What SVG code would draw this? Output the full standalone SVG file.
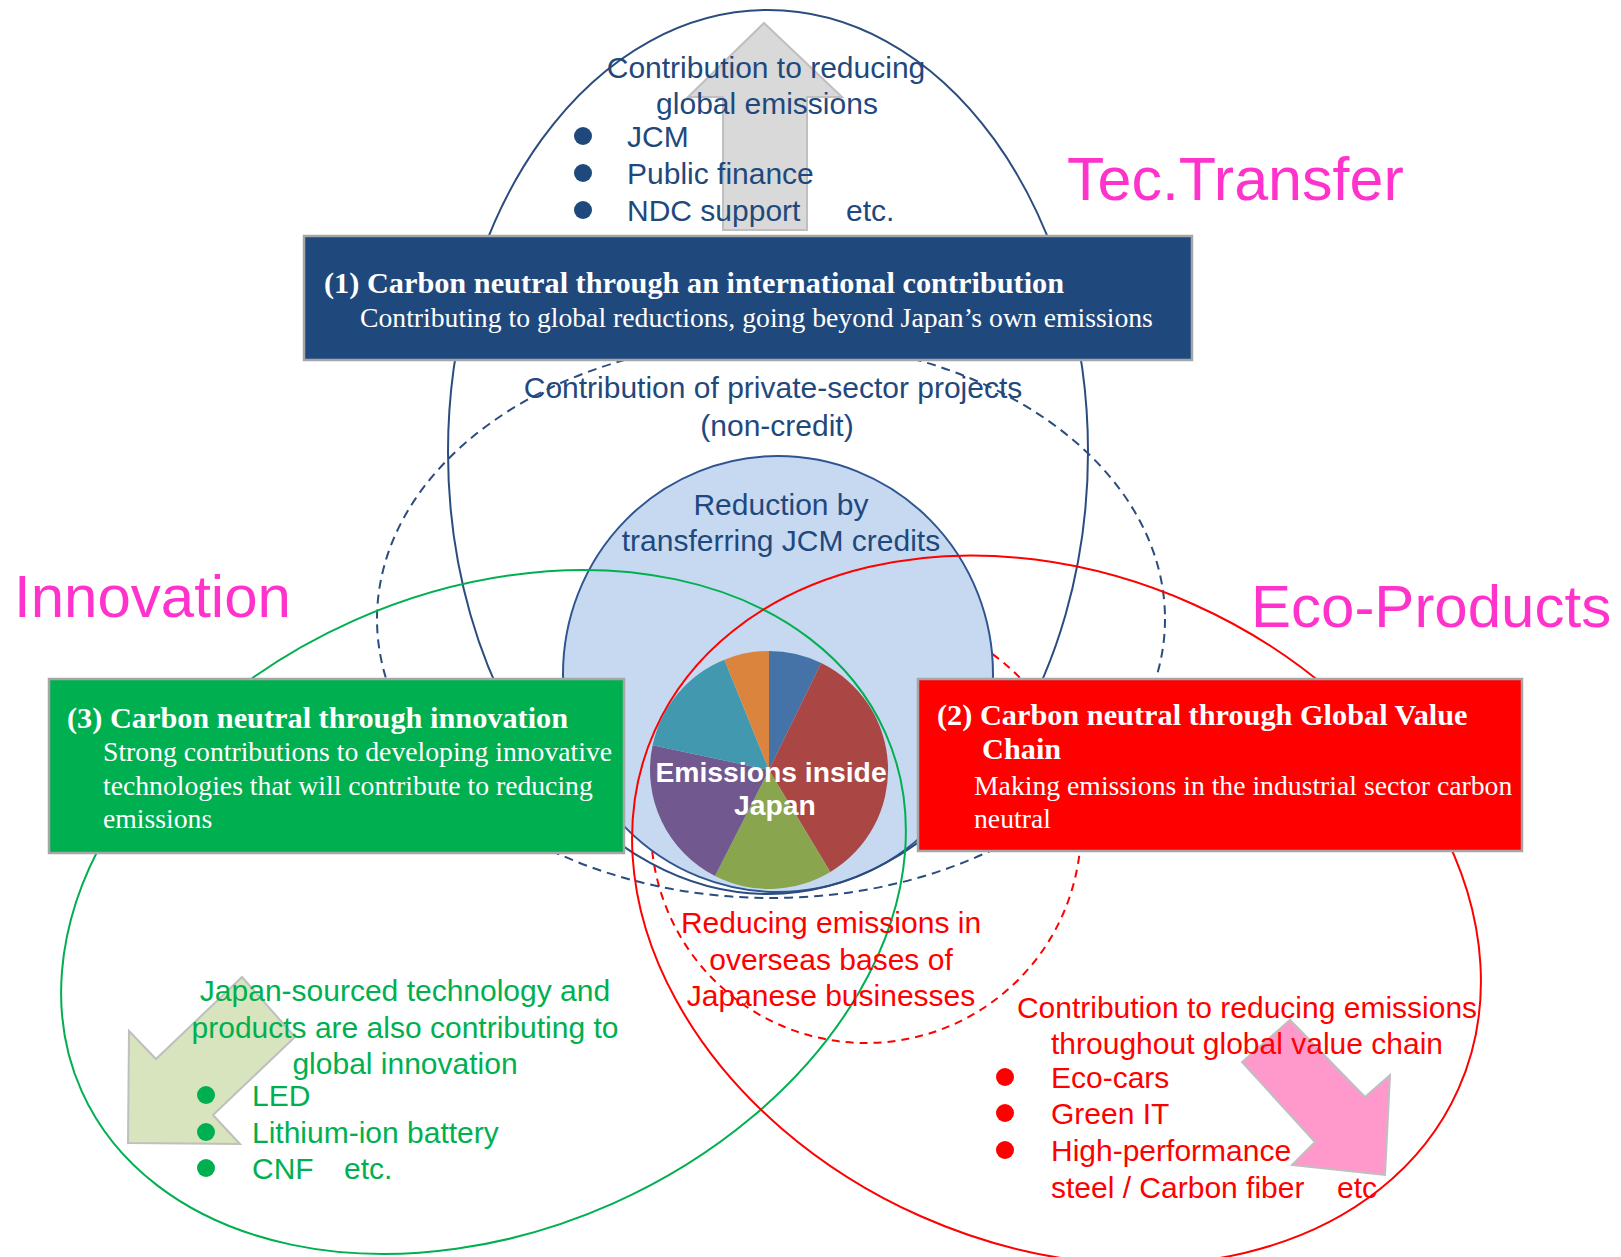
<svg xmlns="http://www.w3.org/2000/svg" width="1621" height="1257" viewBox="0 0 1621 1257">
  <style>
    .sans { font-family: "Liberation Sans", Arial, sans-serif; }
    .serif { font-family: "Liberation Serif", "Times New Roman", serif; }
    .navy { fill: #1F497D; }
    .grn { fill: #00B050; }
    .rd { fill: #FF0000; }
    .body { font-size: 30px; }
    .tag { font-size: 60px; fill: #FF33CC; }
    .boxhead { font-size: 30.3px; font-weight: bold; fill: #FFFFFF; }
    .boxtext { font-size: 27.7px; fill: #FFFFFF; }
    .ring { fill: none; stroke-width: 2; }
    .box { stroke: #A6A6A6; stroke-width: 2.5; }
    .arrow { stroke: #BFBFBF; stroke-width: 2; }
  </style>

  <rect width="1621" height="1257" fill="#FFFFFF"/>

  <!-- regions drawn underneath the JCM credit disc -->
  <g id="overseas-bases-region">
    <circle cx="866" cy="828" r="215" class="ring" stroke="#FF0000" stroke-dasharray="8 6"/>
  </g>
  <g id="private-sector-region">
    <ellipse cx="771" cy="619" rx="394" ry="279" class="ring" stroke="#2B4C7E" stroke-dasharray="9 6"/>
  </g>
  <g id="jcm-credit-disc">
    <ellipse cx="778" cy="674" rx="215" ry="218" fill="#C6D9F1" stroke="#2F5590" stroke-width="2"/>
  </g>

  <!-- main regions -->
  <g id="tec-transfer-region">
    <ellipse cx="768" cy="452" rx="320" ry="442" class="ring" stroke="#2B4C7E"/>
  </g>
  <g id="innovation-region">
    <ellipse cx="483.5" cy="912" rx="440" ry="319" class="ring" stroke="#00B050" transform="rotate(-24 483.5 912)"/>
  </g>
  <g id="eco-products-region">
    <ellipse cx="1056.5" cy="910" rx="440" ry="335" class="ring" stroke="#FF0000" transform="rotate(24 1056.5 910)"/>
  </g>

  <!-- block arrows -->
  <g id="connectors">
    <polygon class="arrow" fill="#D9D9D9" points="764,23 842,97 807,97 807,230 723,230 723,97 688,97"/>
    <polygon class="arrow" fill="#D7E4BD" points="128,1143 129,1031 156,1059 242,977 295,1037 213,1115 240,1144"/>
    <polygon class="arrow" fill="#FF99CC" points="1385,1175 1390,1075 1365,1097 1290,1020 1242,1062 1315,1142 1292,1165"/>
  </g>

  <!-- domestic emissions pie -->
  <g id="emissions-pie">
    <path d="M769,770 L769,651 A119,119 0 0 1 821.2,663 Z" fill="#4572A7"/>
    <path d="M769,770 L821.2,663 A119,119 0 0 1 830.3,872 Z" fill="#AA4643"/>
    <path d="M769,770 L830.3,872 A119,119 0 0 1 715,876 Z" fill="#89A54E"/>
    <path d="M769,770 L715,876 A119,119 0 0 1 652.6,745.3 Z" fill="#71588F"/>
    <path d="M769,770 L652.6,745.3 A119,119 0 0 1 724.4,659.7 Z" fill="#4198AF"/>
    <path d="M769,770 L724.4,659.7 A119,119 0 0 1 769,651 Z" fill="#DB843D"/>
    <text class="sans" font-size="28.3" font-weight="bold" fill="#FFFFFF" text-anchor="middle">
      <tspan x="775" y="782">Emissions inside</tspan>
      <tspan x="775" y="815">Japan</tspan>
    </text>
  </g>

  <!-- region captions -->
  <g id="caption-global" class="sans body navy">
    <text x="766" y="78" text-anchor="middle">Contribution to reducing</text>
    <text x="767" y="114" text-anchor="middle">global emissions</text>
    <circle cx="583" cy="136" r="9"/>
    <circle cx="583" cy="173" r="9"/>
    <circle cx="583" cy="210" r="9"/>
    <text x="627" y="147">JCM</text>
    <text x="627" y="184">Public finance</text>
    <text x="627" y="221">NDC support</text>
    <text x="846" y="221">etc.</text>
  </g>
  <g id="caption-private" class="sans body navy">
    <text x="773" y="398" text-anchor="middle">Contribution of private-sector projects</text>
    <text x="777" y="436" text-anchor="middle">(non-credit)</text>
  </g>
  <g id="caption-jcm" class="sans body navy">
    <text x="781" y="515" text-anchor="middle">Reduction by</text>
    <text x="781" y="551" text-anchor="middle">transferring JCM credits</text>
  </g>
  <g id="caption-overseas" class="sans body rd">
    <text x="831" y="933" text-anchor="middle">Reducing emissions in</text>
    <text x="831" y="970" text-anchor="middle">overseas bases of</text>
    <text x="831" y="1006" text-anchor="middle">Japanese businesses</text>
  </g>
  <g id="caption-value-chain" class="sans body rd">
    <text x="1247" y="1018" text-anchor="middle">Contribution to reducing emissions</text>
    <text x="1247" y="1054" text-anchor="middle">throughout global value chain</text>
    <circle cx="1005" cy="1077" r="9"/>
    <circle cx="1005" cy="1113" r="9"/>
    <circle cx="1005" cy="1150" r="9"/>
    <text x="1051" y="1088">Eco-cars</text>
    <text x="1051" y="1124">Green IT</text>
    <text x="1051" y="1161">High-performance</text>
    <text x="1051" y="1198">steel / Carbon fiber</text>
    <text x="1337" y="1198">etc</text>
  </g>
  <g id="caption-innovation" class="sans body grn">
    <text x="405" y="1001" text-anchor="middle">Japan-sourced technology and</text>
    <text x="405" y="1038" text-anchor="middle">products are also contributing to</text>
    <text x="405" y="1074" text-anchor="middle">global innovation</text>
    <circle cx="206" cy="1095" r="9"/>
    <circle cx="206" cy="1132" r="9"/>
    <circle cx="206" cy="1168" r="9"/>
    <text x="252" y="1106">LED</text>
    <text x="252" y="1143">Lithium-ion battery</text>
    <text x="252" y="1179">CNF</text>
    <text x="344" y="1179">etc.</text>
  </g>

  <!-- pillar boxes -->
  <g id="box-international">
    <rect x="304" y="236" width="888" height="124" fill="#1F497D" class="box"/>
    <text class="serif boxhead" x="324" y="293">(1) Carbon neutral through an international contribution</text>
    <text class="serif boxtext" x="360" y="327">Contributing to global reductions, going beyond Japan’s own emissions</text>
  </g>
  <g id="box-innovation">
    <rect x="49" y="679" width="575" height="174" fill="#00B050" class="box"/>
    <text class="serif boxhead" x="67" y="728">(3) Carbon neutral through innovation</text>
    <text class="serif boxtext" x="103" y="761">Strong contributions to developing innovative</text>
    <text class="serif boxtext" x="103" y="795">technologies that will contribute to reducing</text>
    <text class="serif boxtext" x="103" y="828">emissions</text>
  </g>
  <g id="box-value-chain">
    <rect x="918" y="679" width="604" height="172" fill="#FF0000" class="box"/>
    <text class="serif boxhead" x="937" y="725">(2) Carbon neutral through Global Value</text>
    <text class="serif boxhead" x="982" y="759">Chain</text>
    <text class="serif boxtext" x="974" y="795">Making emissions in the industrial sector carbon</text>
    <text class="serif boxtext" x="974" y="828">neutral</text>
  </g>

  <!-- theme labels -->
  <g id="labels" class="sans tag">
    <text x="1067" y="200" font-size="61">Tec.Transfer</text>
    <text x="14" y="617">Innovation</text>
    <text x="1251" y="627">Eco-Products</text>
  </g>
</svg>
